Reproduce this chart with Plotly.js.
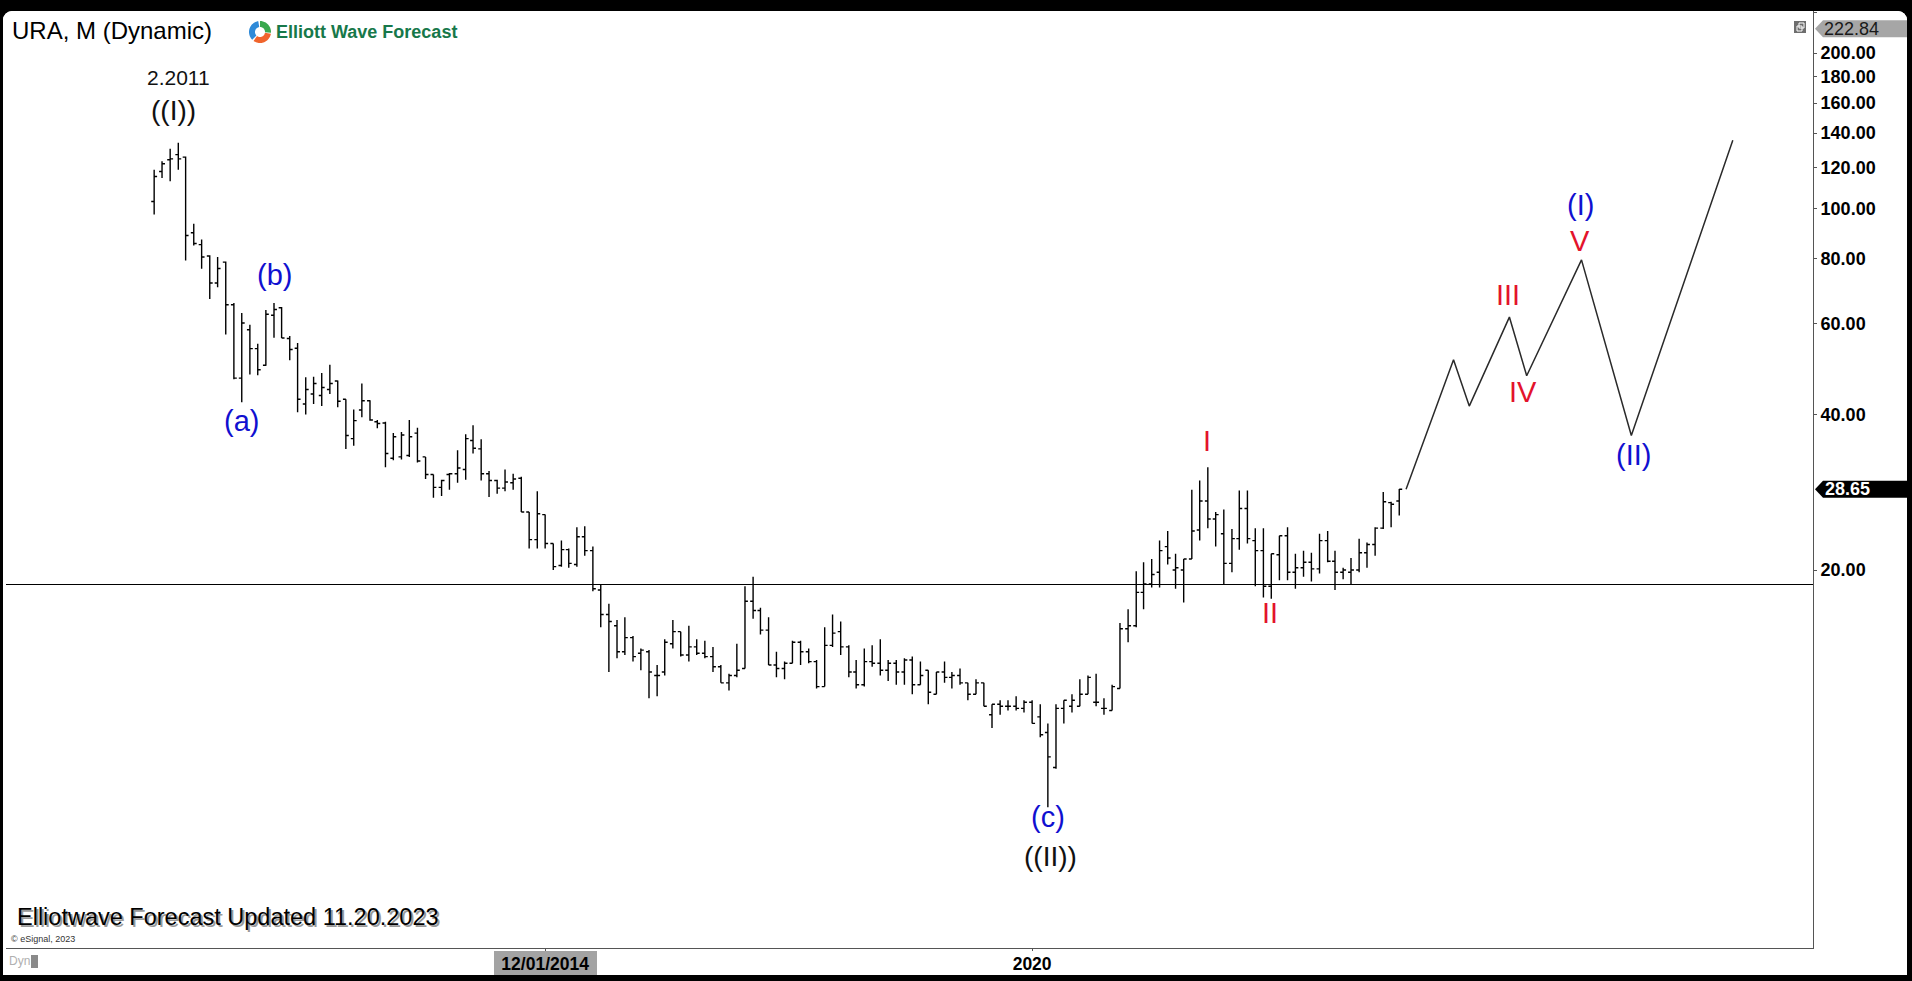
<!DOCTYPE html>
<html><head><meta charset="utf-8">
<script src="https://cdn.plot.ly/plotly-3.0.1.min.js"></script>
<style>
html,body{margin:0;padding:0;background:#000;width:1912px;height:981px;overflow:hidden}
#chart{position:absolute;left:3px;top:11px;width:1904px;height:964px;background:#fff;border-radius:9px 9px 0 0;overflow:hidden}
</style></head><body><div id="chart"></div>
<script>
// ---- data (monthly bars, URA) ----
const months = [
 '2010-11','2010-12',
 '2011-01','2011-02','2011-03','2011-04','2011-05','2011-06','2011-07','2011-08','2011-09','2011-10','2011-11','2011-12',
 '2012-01','2012-02','2012-03','2012-04','2012-05','2012-06','2012-07','2012-08','2012-09','2012-10','2012-11','2012-12',
 '2013-01','2013-02','2013-03','2013-04','2013-05','2013-06','2013-07','2013-08','2013-09','2013-10','2013-11','2013-12',
 '2014-01','2014-02','2014-03','2014-04','2014-05','2014-06','2014-07','2014-08','2014-09','2014-10','2014-11','2014-12',
 '2015-01','2015-02','2015-03','2015-04','2015-05','2015-06','2015-07','2015-08','2015-09','2015-10','2015-11','2015-12',
 '2016-01','2016-02','2016-03','2016-04','2016-05','2016-06','2016-07','2016-08','2016-09','2016-10','2016-11','2016-12',
 '2017-01','2017-02','2017-03','2017-04','2017-05','2017-06','2017-07','2017-08','2017-09','2017-10','2017-11','2017-12',
 '2018-01','2018-02','2018-03','2018-04','2018-05','2018-06','2018-07','2018-08','2018-09','2018-10','2018-11','2018-12',
 '2019-01','2019-02','2019-03','2019-04','2019-05','2019-06','2019-07','2019-08','2019-09','2019-10','2019-11','2019-12',
 '2020-01','2020-02','2020-03','2020-04','2020-05','2020-06','2020-07','2020-08','2020-09','2020-10','2020-11','2020-12',
 '2021-01','2021-02','2021-03','2021-04','2021-05','2021-06','2021-07','2021-08','2021-09','2021-10','2021-11','2021-12',
 '2022-01','2022-02','2022-03','2022-04','2022-05','2022-06','2022-07','2022-08','2022-09','2022-10','2022-11','2022-12',
 '2023-01','2023-02','2023-03','2023-04','2023-05','2023-06','2023-07','2023-08','2023-09','2023-10','2023-11'
];
const opens = [
 103.2,118.0,
 124.3,127.2,125.8,89.8,85.2,81.0,71.8,78.8,65.2,47.0,58.3,53.6,
 49.8,62.2,64.3,56.1,53.7,41.9,43.8,43.5,44.7,46.4,42.8,35.9,
 40.8,42.5,38.7,38.5,32.9,33.1,33.3,36.8,33.1,30.6,28.9,30.6,
 30.7,31.3,35.6,34.3,30.7,29.8,28.8,29.5,30.1,25.9,22.9,25.6,
 22.5,20.4,21.9,20.5,23.2,21.8,18.3,16.4,15.6,13.9,14.8,13.8,
 13.9,12.5,12.7,14.4,15.2,13.7,14.2,13.8,13.6,13.0,12.1,12.5,
 12.9,17.4,16.7,15.3,13.1,12.9,13.2,14.5,13.9,13.3,11.9,14.3,
 15.2,14.2,12.7,12.0,13.3,13.2,12.8,13.2,12.7,13.4,12.0,12.8,
 11.5,12.7,12.4,12.5,12.1,11.5,12.1,10.5,11.0,10.9,10.9,10.8,
 11.1,10.4,9.7,8.3,10.8,10.9,10.9,11.5,11.1,10.8,10.7,11.8,
 15.4,15.6,18.1,18.8,19.8,22.2,20.0,20.0,21.0,23.9,27.2,25.1,
 23.5,20.6,23.0,26.3,22.8,21.8,18.6,21.4,23.3,19.8,20.2,20.7,
 20.1,22.8,20.8,19.8,19.8,20.0,21.6,22.4,24.1,27.0,27.2
];
const highs = [
 118.9,123.5,
 130.6,134.1,126.2,93.5,87.2,81.3,80.6,79.0,65.7,62.8,59.6,54.8,
 63.7,65.7,64.5,56.7,55.0,47.2,47.3,48.1,49.9,46.5,42.8,40.9,
 45.9,42.6,39.0,38.7,36.8,37.0,39.0,37.7,33.1,30.6,29.9,30.8,
 34.1,36.6,38.1,35.8,31.1,29.9,31.3,30.7,30.3,25.9,28.4,25.6,
 22.5,22.8,22.0,24.2,24.3,22.2,18.7,17.2,16.0,16.2,14.9,14.1,
 14.0,13.1,14.7,16.0,15.2,15.6,14.7,14.6,14.2,13.1,12.6,14.4,
 18.6,19.4,16.9,16.2,13.9,13.3,14.6,14.6,14.1,13.4,15.5,16.4,
 15.9,14.3,13.4,14.1,14.3,14.7,13.4,13.4,13.5,13.6,13.3,12.8,
 12.7,13.3,12.7,12.9,12.1,12.3,12.1,11.0,11.2,11.2,11.4,11.2,
 11.2,11.0,10.1,11.0,11.2,11.5,12.3,12.5,12.6,11.3,12.0,15.8,
 16.8,19.9,20.7,21.0,22.8,23.8,21.5,21.0,28.6,29.8,31.6,25.9,
 26.2,24.0,28.5,28.5,24.1,24.1,21.5,23.3,24.2,21.5,21.8,21.6,
 23.5,23.8,21.8,20.2,21.1,23.0,22.6,24.2,28.3,27.1,28.7
];
const lows = [
 97.4,114.6,
 113.0,118.9,79.4,84.9,76.5,66.9,70.5,57.1,46.8,42.2,47.8,47.6,
 49.7,56.3,56.2,50.9,40.4,40.0,41.9,41.5,43.8,41.3,34.3,34.8,
 39.5,38.9,37.6,31.6,32.6,32.7,33.1,32.3,30.0,27.6,27.8,28.6,
 29.5,29.9,33.6,29.8,27.7,28.1,28.4,28.6,25.9,22.0,22.0,22.0,
 20.0,20.3,20.2,20.3,21.3,18.2,15.5,12.7,13.5,13.7,13.3,12.8,
 11.3,11.4,12.5,14.1,13.6,13.3,13.7,13.5,12.7,12.1,11.7,12.4,
 12.9,16.1,15.0,13.1,12.4,12.3,13.2,13.1,13.2,11.8,11.9,14.2,
 13.7,12.4,11.8,11.9,13.0,12.5,12.2,12.0,12.0,11.5,12.0,11.0,
 11.5,12.1,11.8,12.0,11.2,11.5,10.9,9.9,10.5,10.7,10.7,10.6,
 10.1,9.5,6.95,8.25,10.1,10.6,10.9,11.5,10.9,10.5,10.7,11.8,
 14.5,15.5,16.8,18.5,18.5,20.5,18.4,17.3,21.0,22.8,24.1,22.2,
 18.7,19.8,21.9,22.5,18.6,17.7,17.6,19.1,19.1,18.4,19.4,19.0,
 19.7,20.7,18.3,19.2,18.8,19.8,20.2,21.3,24.0,24.2,25.5
];
const closes = [
 115.4,122.1,
 124.8,124.8,88.7,85.6,80.6,71.8,76.6,65.2,47.0,60.1,53.6,48.8,
 62.5,63.8,56.2,53.4,42.8,44.7,45.9,45.1,45.9,42.4,36.4,38.9,
 42.5,39.0,38.4,33.6,36.2,36.5,36.2,32.5,30.6,28.9,29.8,30.7,
 31.5,35.9,34.4,30.7,29.8,28.8,29.6,30.0,25.9,22.9,25.7,22.5,
 20.3,21.9,20.6,23.2,21.8,18.4,16.4,15.9,13.9,14.8,13.6,14.0,
 12.7,12.5,14.5,15.2,13.7,14.2,13.8,13.6,13.0,12.1,12.5,12.8,
 17.4,16.7,15.3,13.1,12.9,13.2,14.5,13.9,13.3,11.9,14.3,15.1,
 14.2,12.7,12.0,13.3,13.2,12.8,13.2,12.7,13.4,12.0,12.5,11.6,
 12.7,12.4,12.5,12.1,11.5,12.1,10.9,11.0,10.9,10.9,10.8,11.1,
 10.1,9.6,8.7,10.8,11.2,11.2,11.5,12.4,11.1,10.8,11.9,15.4,
 15.6,18.1,18.8,19.6,21.8,21.1,20.2,21.0,23.8,27.2,25.1,25.6,
 20.6,23.0,26.3,23.0,21.8,18.6,21.5,23.3,19.8,20.2,20.7,20.1,
 22.8,20.8,19.8,20.0,20.0,21.6,22.4,24.1,27.1,26.8,28.65
];
// forecast path (Elliott wave projection)
const projDates  = ['2023-11-27','2024-05-26','2024-07-25','2024-12-25','2025-03-01','2025-09-26','2026-04-04','2027-04-26'];
const projValues = [28.65, 51.0, 41.5, 61.7, 47.5, 79.6, 36.4, 135.6];
// horizontal level
const levelValue = 18.75;
// axis ticks
const yTickVals = [20,40,60,80,100,120,140,160,180,200,240];
const yTickText = ['20.00','40.00','60.00','80.00','100.00','120.00','140.00','160.00','180.00','200.00','240.00'];
const xTickVals = ['2014-12-01','2020-01-01'];
const xTickText = ['12/01/2014','2020'];
const lastPrice = 28.65;
const cursorPrice = 222.84;
// wave labels: [text, date, value, color]
const waveLabels = [
 ['((I))',  '2011-01-13', 155,  '#111'],
 ['(a)',    '2011-10-01', 38.9, '#1010d0'],
 ['(b)',    '2012-02-01', 74.5, '#1010d0'],
 ['(c)',    '2020-03-01', 6.67, '#1010d0'],
 ['((II))', '2020-03-11', 5.58, '#111'],
 ['I',      '2021-10-30', 35.6, '#e3132c'],
 ['II',     '2022-06-25', 16.5, '#e3132c'],
 ['III',    '2024-12-21', 68.1, '#e3132c'],
 ['IV',     '2025-02-14', 44.1, '#e3132c'],
 ['V',      '2025-09-22', 86.4, '#e3132c'],
 ['(I)',    '2025-09-22', 101.7,'#1010d0'],
 ['(II)',   '2026-04-13', 33.4, '#1010d0']
];

// ---- geometry ----
const X_RANGE = ['2009-04-15','2028-02-25 19:00'];
const Y_RANGE = [0.5699, 2.3823];
const FONT = 'Liberation Sans, Arial, sans-serif';
const PL = 6, PR = 1813, PT = 11, PB = 948; // plot box in page pixels
const W = PR - PL, H = PB - PT;
const px = X => (X - PL) / W;
const py = Y => (PB - Y) / H;
const pv = v => (Math.log10(v) - Y_RANGE[0]) / (Y_RANGE[1] - Y_RANGE[0]);

const traces = [
 {type:'ohlc', x: months.map(m => m + '-01'), open: opens, high: highs, low: lows, close: closes,
  increasing:{line:{color:'#000', width:1.4}}, decreasing:{line:{color:'#000', width:1.4}},
  tickwidth:0.4, hoverinfo:'skip', showlegend:false},
 {type:'scatter', mode:'lines', x: X_RANGE, y:[levelValue, levelValue],
  line:{color:'#000', width:1.2}, hoverinfo:'skip', showlegend:false},
 {type:'scatter', mode:'lines', x: projDates, y: projValues,
  line:{color:'#2a2a2a', width:1.5}, hoverinfo:'skip', showlegend:false}
];

const annotations = [];
waveLabels.forEach(([t, d, v, c]) => {
 const big = t.startsWith('((');
 annotations.push({xref:'x', yref:'y', x:d, y:Math.log10(v), text:t, showarrow:false,
   xanchor:'center', yanchor:'middle', font:{family:FONT, size: big ? 28 : 29, color:c}});
});
annotations.push({xref:'x', yref:'y', x:'2011-02-01', y:Math.log10(179.5), text:'2.2011', showarrow:false,
  xanchor:'center', yanchor:'middle', font:{family:FONT, size:21, color:'#111'}});
// header
annotations.push({xref:'paper', yref:'paper', x:px(10), y:py(31), text:'URA, M (Dynamic)', showarrow:false,
  xanchor:'left', yanchor:'middle', font:{family:FONT, size:24, color:'#000'}});
annotations.push({xref:'paper', yref:'paper', x:px(274), y:py(32), text:'Elliott Wave Forecast', showarrow:false,
  xanchor:'left', yanchor:'middle', font:{family:FONT, size:18, color:'#17784a', weight:'bold'}});
// footer
annotations.push({xref:'paper', yref:'paper', x:px(15), y:py(917), xshift:2, yshift:-2, text:'Elliotwave Forecast Updated 11.20.2023', showarrow:false,
  xanchor:'left', yanchor:'middle', font:{family:FONT, size:23.5, color:'#9a9a9a'}});
annotations.push({xref:'paper', yref:'paper', x:px(15), y:py(917), text:'Elliotwave Forecast Updated 11.20.2023', showarrow:false,
  xanchor:'left', yanchor:'middle', font:{family:FONT, size:23.5, color:'#000'}});
annotations.push({xref:'paper', yref:'paper', x:px(9), y:py(939), text:'© eSignal, 2023', showarrow:false,
  xanchor:'left', yanchor:'middle', font:{family:FONT, size:9, color:'#333'}});
annotations.push({xref:'paper', yref:'paper', x:px(7), y:py(961), text:'Dyn', showarrow:false,
  xanchor:'left', yanchor:'middle', font:{family:FONT, size:12, color:'#b0b0b0'}});
// price boxes on the right axis
annotations.push({xref:'paper', yref:'paper', x:px(1823), y:pv(lastPrice), text:lastPrice.toFixed(2), showarrow:false,
  xanchor:'left', yanchor:'middle', font:{family:FONT, size:18, color:'#fff', weight:'bold'}});
annotations.push({xref:'paper', yref:'paper', x:px(1822), y:pv(cursorPrice), text:cursorPrice.toFixed(2), showarrow:false,
  xanchor:'left', yanchor:'middle', font:{family:FONT, size:18, color:'#1a1a1a'}});

const shapes = [];
// gray highlight behind the 12/01/2014 date label
shapes.push({type:'rect', xref:'paper', yref:'paper', x0:px(494), x1:px(597), y0:py(975), y1:py(951),
  fillcolor:'#a3a3a3', line:{width:0}, layer:'below'});
// price boxes with arrow
function priceBox(v, fill){
  const yc = pv(v), hh = 8.5 / H;
  shapes.push({type:'path', xref:'paper', yref:'paper',
    path:`M ${px(1815)},${yc} L ${px(1823)},${yc+hh} L ${px(1908)},${yc+hh} L ${px(1908)},${yc-hh} L ${px(1823)},${yc-hh} Z`,
    fillcolor:fill, line:{width:0}, layer:'above'});
}
priceBox(lastPrice, '#000');
priceBox(cursorPrice, '#a6a6a6');
// small window icon near top-right
shapes.push({type:'rect', xref:'paper', yref:'paper', x0:px(1794), x1:px(1806), y0:py(33), y1:py(21),
  fillcolor:'#6e6e6e', line:{width:0}});
shapes.push({type:'rect', xref:'paper', yref:'paper', x0:px(1797), x1:px(1802), y0:py(31), y1:py(26),
  fillcolor:'rgba(0,0,0,0)', line:{width:1, color:'#fff'}});
shapes.push({type:'rect', xref:'paper', yref:'paper', x0:px(1799), x1:px(1804), y0:py(28), y1:py(23),
  fillcolor:'rgba(0,0,0,0)', line:{width:1, color:'#fff'}});
// Dyn icon
shapes.push({type:'rect', xref:'paper', yref:'paper', x0:px(31), x1:px(38), y0:py(968), y1:py(955),
  fillcolor:'#8a8a8a', line:{width:0}});
// logo ring
function arc(cx, cy, r0, r1, a0, a1, col){
  const pts = [];
  const n = 24;
  for(let i=0;i<=n;i++){const a=a0+(a1-a0)*i/n; pts.push([cx+r1*Math.cos(a), cy-r1*Math.sin(a)]);}
  for(let i=n;i>=0;i--){const a=a0+(a1-a0)*i/n; pts.push([cx+r0*Math.cos(a), cy-r0*Math.sin(a)]);}
  const p = pts.map((q,i)=>(i?'L':'M')+' '+px(q[0])+','+py(q[1])).join(' ')+' Z';
  shapes.push({type:'path', xref:'paper', yref:'paper', path:p, fillcolor:col, line:{width:0}});
}
arc(260, 32, 5, 11, Math.PI*0.55, Math.PI*1.25, '#2f8ad8');
arc(260, 32, 5, 11, Math.PI*1.3, Math.PI*1.95, '#f0642c');
arc(260, 32, 5, 11, -Math.PI*0.02, Math.PI*0.5, '#3aa84e');

const layout = {
  width:1904, height:964,
  margin:{l:3, r:94, t:0, b:27, pad:0},
  paper_bgcolor:'#fff', plot_bgcolor:'#fff',
  showlegend:false,
  font:{family:FONT},
  xaxis:{type:'date', range:X_RANGE, rangeslider:{visible:false}, showgrid:false, zeroline:false,
    showline:true, linecolor:'#555', linewidth:1, mirror:false,
    tickmode:'array', tickvals:xTickVals, ticktext:xTickText, ticks:'outside', ticklen:2, tickcolor:'#555',
    ticklabelstandoff:-2,
    tickfont:{family:FONT, size:17.5, color:'#000', weight:'bold'}, fixedrange:true},
  yaxis:{type:'log', side:'right', range:Y_RANGE, showgrid:false, zeroline:false,
    showline:true, linecolor:'#555', linewidth:1,
    tickmode:'array', tickvals:yTickVals, ticktext:yTickText, ticks:'outside', ticklen:3, tickcolor:'#555',
    tickfont:{family:FONT, size:18, color:'#000', weight:'bold'}, fixedrange:true},
  annotations, shapes
};
Plotly.newPlot('chart', traces, layout, {displayModeBar:false, staticPlot:true});
</script></body></html>
